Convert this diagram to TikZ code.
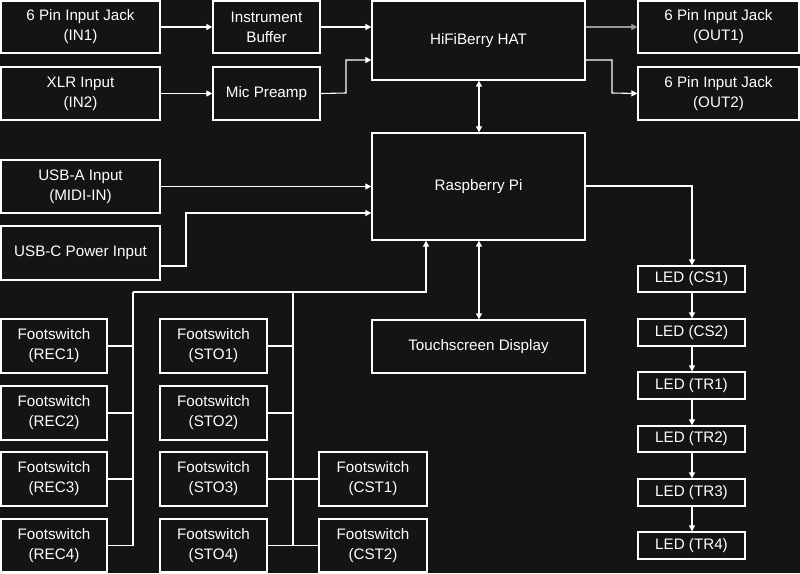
\documentclass[tikz,border=0pt]{standalone}
\usepackage{fontspec}
\setmainfont{Liberation Sans}
\usetikzlibrary{arrows.meta}
\definecolor{bg}{HTML}{141414}
\begin{document}
\begin{tikzpicture}[x=1pt,y=-1pt,
  box/.style={draw=white,line width=1.3pt,fill=bg,text=white,align=center,font=\fontsize{15.2}{20}\selectfont},
  con/.style={draw=white,line width=1.1pt},
  arr/.style={con,-{Triangle[width=6pt,length=6pt]}},
  barr/.style={con,{Triangle[width=6pt,length=6pt]}-{Triangle[width=6pt,length=6pt]}}]
\fill[bg] (0,0) rectangle (800,573);
\useasboundingbox (0,0) rectangle (800,573);
\newcommand{\bx}[6]{\node[box,minimum width=#4pt-#2pt,minimum height=#5pt-#3pt,inner sep=0pt] (#1) at ({(#2+#4)/2},{(#3+#5)/2}) {#6};}
\bx{in1}{1}{1}{160}{53}{6 Pin Input Jack\\(IN1)}
\bx{in2}{1}{67}{160}{120}{XLR Input\\(IN2)}
\bx{buf}{213}{1}{320}{53}{Instrument\\Buffer}
\bx{mic}{213}{67}{320}{120}{Mic Preamp}
\bx{hat}{372}{1}{585}{80}{HiFiBerry HAT}
\bx{out1}{638}{1}{799}{53}{6 Pin Input Jack\\(OUT1)}
\bx{out2}{638}{67}{799}{120}{6 Pin Input Jack\\(OUT2)}
\bx{usba}{1}{160}{160}{213}{USB-A Input\\(MIDI-IN)}
\bx{usbc}{1}{226}{160}{280}{USB-C Power Input}
\bx{pi}{372}{133}{585}{240}{Raspberry Pi}
\bx{touch}{372}{320}{585}{373}{Touchscreen Display}
\bx{rec1}{1}{319}{107}{373}{Footswitch\\(REC1)}
\bx{rec2}{1}{386}{107}{440}{Footswitch\\(REC2)}
\bx{rec3}{1}{452}{107}{506}{Footswitch\\(REC3)}
\bx{rec4}{1}{519}{107}{572}{Footswitch\\(REC4)}
\bx{sto1}{160}{319}{267}{373}{Footswitch\\(STO1)}
\bx{sto2}{160}{386}{267}{440}{Footswitch\\(STO2)}
\bx{sto3}{160}{452}{267}{506}{Footswitch\\(STO3)}
\bx{sto4}{160}{519}{267}{572}{Footswitch\\(STO4)}
\bx{cst1}{319}{452}{427}{506}{Footswitch\\(CST1)}
\bx{cst2}{319}{519}{427}{572}{Footswitch\\(CST2)}
\bx{cs1}{638}{266}{745}{292}{LED (CS1)}
\bx{cs2}{638}{319}{745}{346}{LED (CS2)}
\bx{tr1}{638}{372}{745}{399}{LED (TR1)}
\bx{tr2}{638}{426}{745}{452}{LED (TR2)}
\bx{tr3}{638}{479}{745}{506}{LED (TR3)}
\bx{tr4}{638}{532}{745}{559}{LED (TR4)}
\draw[arr] (in1.east) -- (buf.west);
\draw[arr] (in2.east) -- (mic.west);
\draw[arr] (buf.east) -- (buf.east -| hat.west);
\draw[arr] (mic.east) -- (346,93) -- (346,60) -- (hat.west |- 0,60);
\draw[arr,draw=gray!80!white] (hat.east |- 0,27) -- (out1.west |- 0,27);
\draw[arr] (hat.east |- 0,60) -- (612,60) -- (612,93) -- (out2.west);
\draw[barr] (hat.south -| 479,0) -- (pi.north -| 479,0);
\draw[barr] (pi.south -| 479,0) -- (touch.north -| 479,0);
\draw[arr] (usba.east) -- (usba.east -| pi.west);
\draw[arr] (usbc.east |- 0,266) -- (186,266) -- (186,213) -- (pi.west |- 0,213);
\draw[arr] (pi.east |- 0,186) -- (692,186) -- (cs1.north -| 692,0);
\foreach \a/\b in {cs1/cs2,cs2/tr1,tr1/tr2,tr2/tr3,tr3/tr4}
  \draw[arr] (\a.south -| 692,0) -- (\b.north -| 692,0);
\coordinate (bus) at (426,292);
\draw[arr] (133,292) -- (bus) -- (pi.south -| bus);
\draw[con] (133,292) -- (133,546);
\draw[con] (293,292) -- (293,546);
\foreach \n in {rec1,rec2,rec3,rec4} \draw[con] (\n.east) -- (\n.east -| 133,0);
\foreach \n in {sto1,sto2,sto3,sto4} \draw[con] (\n.east) -- (\n.east -| 293,0);
\foreach \n in {cst1,cst2} \draw[con] (\n.west) -- (\n.west -| 293,0);
\end{tikzpicture}
\end{document}
